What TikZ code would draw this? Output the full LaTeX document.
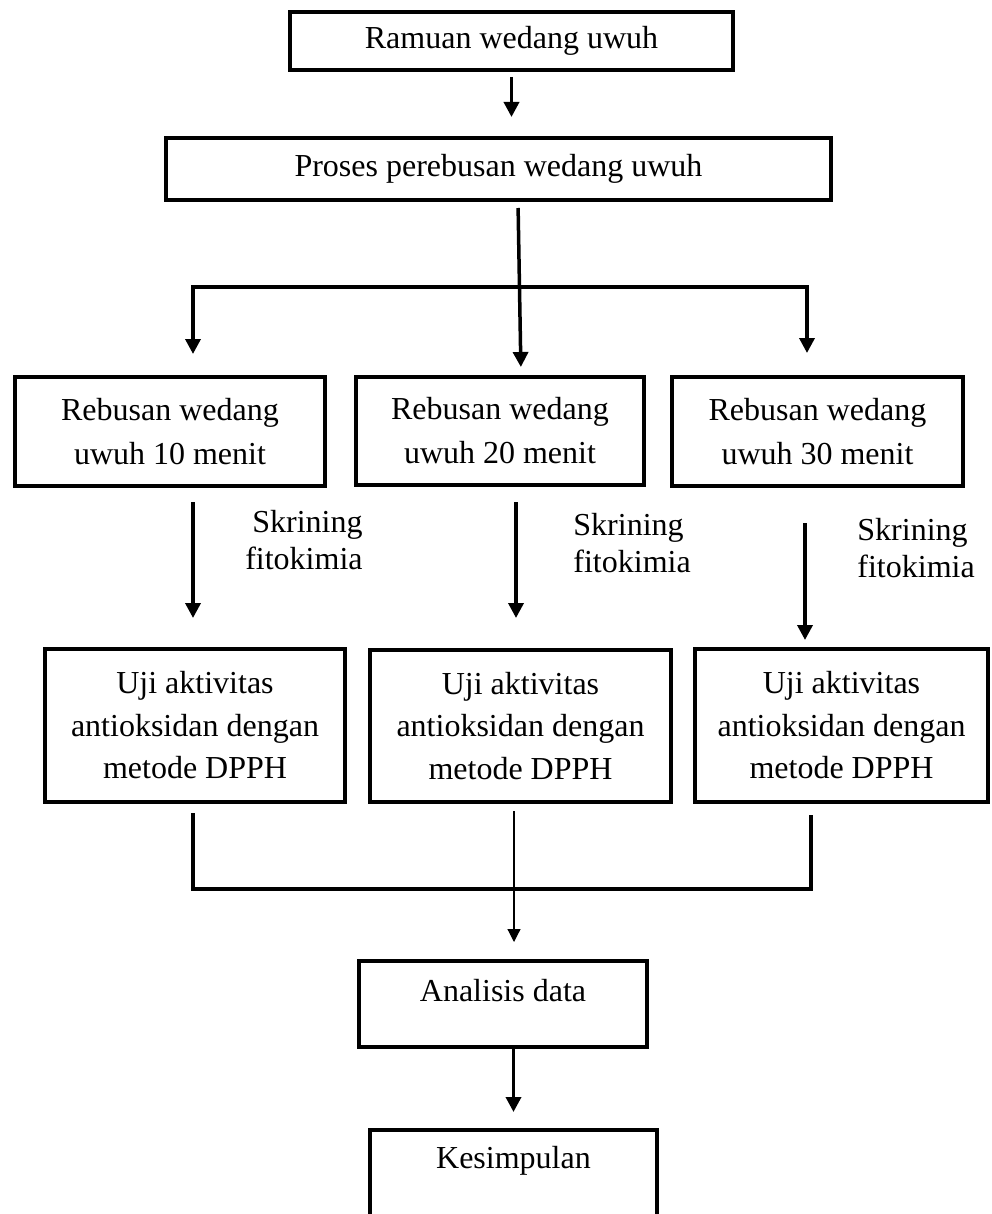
\documentclass[tikz,border=0pt]{standalone}
\usepackage{fontspec}
\setmainfont{Liberation Serif}
\usetikzlibrary{arrows.meta, positioning}
\tikzset{
  kotak/.style={draw, line width=2pt, align=center, inner sep=0pt, font=\fontsize{16}{22}\selectfont},
  ujibox/.style={kotak, minimum height=76.5pt, font=\fontsize{16}{21.25}\selectfont},
  panah/.style={-{Triangle[length=7.5pt, width=7.5pt]}, line width=1.75pt},
  panahtipis/.style={-{Triangle[length=6.5pt, width=6.5pt]}, line width=0.6pt},
  garis/.style={line width=1.75pt},
  ket/.style={inner sep=0pt, font=\fontsize{16}{18.3}\selectfont},
}

\begin{document}
\begin{tikzpicture}[x=0.5pt, y=-0.5pt]
  \useasboundingbox (0,0) rectangle (991,1214);
  % bahan dan perebusan
  \node[kotak, minimum width=221.5pt, minimum height=29pt] (ramuan) at (511.5,41) {Ramuan wedang uwuh};
  \node[kotak, minimum width=332.5pt, minimum height=31pt] (proses) at (498.5,169) {Proses perebusan wedang uwuh};
  % tiga lama rebusan
  \node[kotak, minimum width=155pt, minimum height=54.5pt] (reb10) at (170,431.5) {Rebusan wedang\\ uwuh 10 menit};
  \node[kotak, minimum width=144pt, minimum height=54pt] (reb20) at (500,431) {Rebusan wedang\\ uwuh 20 menit};
  \node[kotak, minimum width=145.5pt, minimum height=54.5pt] (reb30) at (817.5,431.5) {Rebusan wedang\\ uwuh 30 menit};
  % uji DPPH
  \node[ujibox, minimum width=150pt] (uji1) at (195,725.5) {Uji aktivitas\\ antioksidan dengan\\ metode DPPH};
  \node[ujibox, minimum width=150.5pt, minimum height=76pt] (uji2) at (520.5,726) {Uji aktivitas\\ antioksidan dengan\\ metode DPPH};
  \node[ujibox, minimum width=146.5pt] (uji3) at (841.5,725.5) {Uji aktivitas\\ antioksidan dengan\\ metode DPPH};
  % analisis dan kesimpulan
  \node[kotak, minimum width=144pt, text height=20pt, text depth=23pt] (analisis) at (503,1004) {Analisis data};
  \node[kotak, minimum width=143.5pt, text height=19pt, text depth=60pt, anchor=north] (kesimpulan) at (513.5,1128) {Kesimpulan};
  % label skrining
  \node[ket, anchor=north east, align=right] (skr1) at (363,510) {Skrining\\ fitokimia};
  \node[ket, anchor=north west, align=left] (skr2) at (573,513) {Skrining\\ fitokimia};
  \node[ket, anchor=north west, align=left] (skr3) at (857,518) {Skrining\\ fitokimia};

  % percabangan atas
  \coordinate (kiri) at (193,287);
  \coordinate (tengah) at (519.5,287);
  \coordinate (kanan) at (807,287);
  \draw[panah, shorten <=2.5pt, shorten >=9.5pt] (ramuan.south) -- (ramuan.south |- proses.north);
  \draw[panah, shorten <=3pt, shorten >=4pt] ([xshift=9.75pt]proses.south) -- ([xshift=10.5pt]reb20.north);
  \draw[panah, shorten >=10.5pt] (tengah) -- (kiri) -- (kiri |- reb10.north);
  \draw[panah, shorten >=11pt] (tengah) -- (kanan) -- (kanan |- reb30.north);
  % skrining fitokimia
  \coordinate (s2) at (516,500);
  \coordinate (s3) at (805,500);
  \draw[panah, shorten <=7pt, shorten >=14.5pt] (kiri |- reb10.south) -- (kiri |- uji1.north);
  \draw[panah, shorten <=7.5pt, shorten >=15pt] (s2 |- reb20.south) -- (s2 |- uji2.north);
  \draw[panah, shorten <=17.5pt, shorten >=3.5pt] (s3 |- reb30.south) -- (s3 |- uji3.north);
  % penggabungan
  \coordinate (gkiri) at (193,889);
  \coordinate (gtengah) at (514,889);
  \coordinate (gkanan) at (811,889);
  \draw[garis, shorten <=4.5pt, shorten >=5.5pt] (gkiri |- uji1.south) -- (gkiri) -- (gkanan) -- (gkanan |- uji3.south);
  \draw[panahtipis, shorten <=3.5pt, shorten >=8.5pt] (gtengah |- uji2.south) -- (gtengah |- analisis.north);
  \draw[panah, shorten >=8pt] (kesimpulan.north |- analisis.south) -- (kesimpulan.north);
\end{tikzpicture}
\end{document}
